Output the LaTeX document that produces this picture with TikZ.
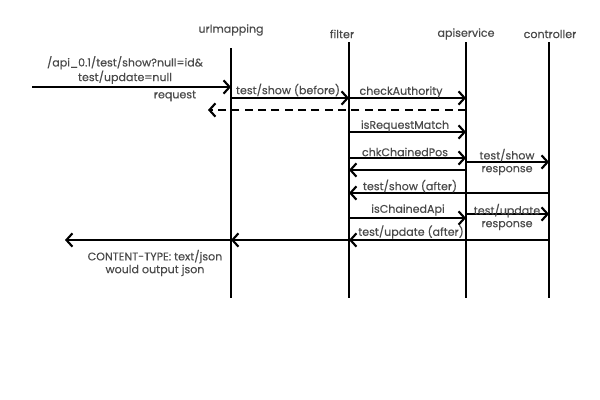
\documentclass[tikz,border=0pt]{standalone}
\usepackage{fontspec}
\setmainfont{Poppins}[FakeBold=0.3]
\usetikzlibrary{arrows.meta}
\definecolor{txt}{HTML}{4A4A4A}
\begin{document}
\begin{tikzpicture}[x=0.75pt,y=-0.75pt,
  life/.style={line width=1.5pt},
  msg/.style={line width=1.5pt,-{Straight Barb[length=4.5pt,width=10pt,line width=1.6pt]}},
  dmsg/.style={msg,dash pattern=on 6pt off 4pt},
  lbl/.style={text=txt,font=\fontsize{8.3}{9.6}\selectfont,inner sep=0pt,align=center}]
\useasboundingbox (0,0) rectangle (600,400);
% lifeline heads
\node[lbl] (hu) at (231,30) {urlmapping};
\node[lbl] (hf) at (342,34) {filter};
\node[lbl] (ha) at (466,34) {apiservice};
\node[lbl] (hc) at (550,34) {controller};
% lifelines
\coordinate (ut) at (231,48); \coordinate (ub) at (231,298);
\coordinate (ft) at (349,42); \coordinate (fb) at (349,298);
\coordinate (at) at (466,42); \coordinate (ab) at (466,298);
\coordinate (ct) at (549,42); \coordinate (cb) at (549,298);
\draw[life] (ut) -- (ub);
\draw[life] (ft) -- (fb);
\draw[life] (at) -- (ab);
\draw[life] (ct) -- (cb);
% message points
\coordinate (start) at (32,87); \coordinate (u1) at (231,87);
\coordinate (u2) at (231,98); \coordinate (f2) at (349,98);
\coordinate (a3) at (466,98);
\coordinate (a4) at (466,110); \coordinate (e4) at (208,110);
\coordinate (f5) at (349,132); \coordinate (a5) at (466,132);
\coordinate (f6) at (349,158); \coordinate (a6) at (466,158);
\coordinate (a7) at (466,170); \coordinate (f7) at (349,170);
\coordinate (a8) at (466,162); \coordinate (c8) at (549,162);
\coordinate (c9) at (549,193); \coordinate (f9) at (349,193);
\coordinate (f10) at (349,218); \coordinate (a10) at (466,218);
\coordinate (a11) at (466,214); \coordinate (c11) at (549,214);
\coordinate (c12) at (549,240); \coordinate (f12) at (349,240);
\coordinate (u13) at (231,240);
\coordinate (end) at (65,240);
% messages
\draw[msg] (start) -- (u1);
\draw[msg] (u2) -- (f2);
\draw[msg] (f2) -- (a3);
\draw[dmsg] (a4) -- (e4);
\draw[msg] (f5) -- (a5);
\draw[msg] (f6) -- (a6);
\draw[msg] (a7) -- (f7);
\draw[msg] (a8) -- (c8);
\draw[msg] (c9) -- (f9);
\draw[msg] (f10) -- (a10);
\draw[msg] (a11) -- (c11);
\draw[msg] (c12) -- (f12);
\draw[msg] (f12) -- (u13);
\draw[msg] (u13) -- (end);
% labels
\node[lbl] (l1) at (125,70) {/api\_0.1/test/show?null=id\&\\test/update=null};
\node[lbl] (l1b) at (175,96) {request};
\node[lbl] (l2) at (288,90) {test/show (before)};
\node[lbl] (l3) at (401,92) {checkAuthority};
\node[lbl] (l5) at (405,126) {isRequestMatch};
\node[lbl] (l6) at (405,152) {chkChainedPos};
\node[lbl] (l8) at (507,162) {test/show\\response};
\node[lbl] (l9) at (410,186) {test/show (after)};
\node[lbl] (l10) at (408,210) {isChainedApi};
\node[lbl] (l11) at (507,217) {test/update\\response};
\node[lbl] (l12) at (411,232) {test/update (after)};
\node[lbl] (l14) at (155,263) {CONTENT-TYPE: text/json\\would output json};
\end{tikzpicture}
\end{document}
